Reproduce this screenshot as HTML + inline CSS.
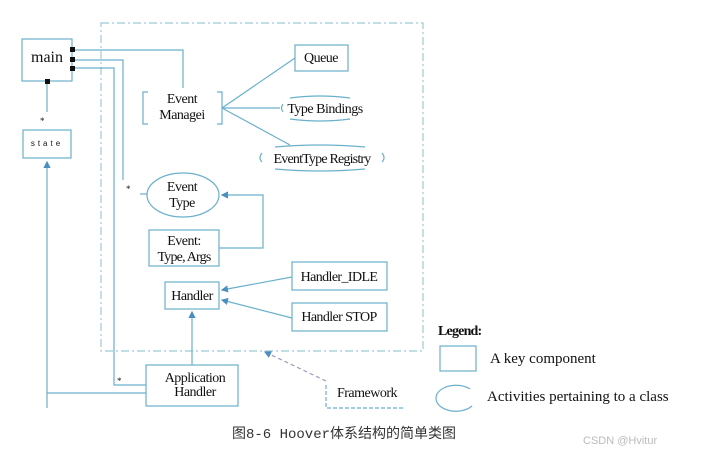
<!DOCTYPE html>
<html><head><meta charset="utf-8"><style>
html,body{margin:0;padding:0;background:#fff;}
svg{display:block;font-family:"Liberation Serif",serif;}
</style></head><body>
<svg width="701" height="451" viewBox="0 0 701 451" xmlns="http://www.w3.org/2000/svg">
<defs>
<marker id="a" markerWidth="6" markerHeight="6" refX="5" refY="3" orient="auto"><path d="M0,0 L6,3 L0,6 z" fill="#4a8fc0"/></marker>
</defs>
<g fill="none" stroke="#8cc4d4" stroke-width="1.2">
<rect x="101" y="23" width="322" height="328" stroke-dasharray="8,3,2,3" stroke="#9ccad6"/>
</g>
<g fill="none" stroke="#6ab0cc" stroke-width="1.2">
<rect x="22" y="39" width="50" height="42"/>
<rect x="23" y="130" width="48" height="28"/>
<rect x="295" y="45" width="53" height="26"/>
<path d="M148,92 H143 V124 H148 M217,92 H222 V124 H217"/>
<ellipse cx="183" cy="195" rx="36" ry="22"/>
<rect x="149" y="230" width="70" height="36"/>
<rect x="165" y="282" width="54" height="27"/>
<rect x="292" y="262" width="95" height="28"/>
<rect x="292" y="303" width="95" height="28"/>
<rect x="146" y="365" width="92" height="41"/>
<path d="M326,385 V408 H404" stroke-dasharray="4,2"/>
<rect x="440" y="346" width="36" height="25"/>
<path d="M470,389 A20,13 0 1,0 472,406"/>
<path d="M283,104 Q280,108 283,112 M290,98 Q320,94 350,98 M290,119 Q320,123 350,119"/>
<path d="M262,153 Q258,158 262,162 M382,153 Q386,158 382,162 M275,147 Q320,143 365,147 M275,169 Q320,173 365,169"/>
<!-- connectors -->
<path d="M74,50 H183 V88"/>
<path d="M74,60 H123 V180"/>
<path d="M74,68 H114 V385 H146"/>
<path d="M47,82 V112"/>
<path d="M47,408 V162" marker-end="url(#a)"/>
<path d="M0,0" />
<path d="M47,393 H146"/>
<path d="M140,194 H147"/>
<path d="M222,108 L295,58 M222,108 H280 M222,108 L290,145"/>
<path d="M219,248 H263 V195 H222" marker-end="url(#a)"/>
<path d="M292,277 L222,290" marker-end="url(#a)"/>
<path d="M292,318 L222,300" marker-end="url(#a)"/>
<path d="M192,365 V312" marker-end="url(#a)"/>
<path d="M326,381 L265,352" stroke-dasharray="4,3" stroke="#99b" marker-end="url(#a)"/>
</g>
<g fill="#111">
<rect x="70" y="47" width="5" height="5"/><rect x="70" y="57" width="5" height="5"/><rect x="70" y="66" width="5" height="5"/><rect x="45" y="79" width="5" height="5"/>
</g>
<g fill="#111" font-size="14">
<text x="47" y="62" text-anchor="middle" font-size="16">main</text>
<text x="47" y="146" text-anchor="middle" font-size="8" letter-spacing="3" font-family="Liberation Sans, sans-serif">state</text>
<text x="40" y="124" font-size="9">*</text>
<text x="126" y="192" font-size="9">*</text>
<text x="117" y="384" font-size="9">*</text>
<text x="321" y="62" text-anchor="middle" letter-spacing="-0.5">Queue</text>
<text x="182" y="103" text-anchor="middle" letter-spacing="-0.5">Event</text>
<text x="182" y="119" text-anchor="middle" letter-spacing="-0.5">Managei</text>
<text x="325" y="113" text-anchor="middle" letter-spacing="-0.5">Type Bindings</text>
<text x="322" y="163" text-anchor="middle" letter-spacing="-0.8">EventType Registry</text>
<text x="182" y="191" text-anchor="middle" letter-spacing="-0.5">Event</text>
<text x="182" y="207" text-anchor="middle" letter-spacing="-0.5">Type</text>
<text x="184" y="245" text-anchor="middle" letter-spacing="-0.5">Event:</text>
<text x="184" y="261" text-anchor="middle" letter-spacing="-0.8">Type, Args</text>
<text x="192" y="300" text-anchor="middle" letter-spacing="-0.5">Handler</text>
<text x="339" y="281" text-anchor="middle" letter-spacing="-0.6">Handler_IDLE</text>
<text x="339" y="321" text-anchor="middle" letter-spacing="-0.6">Handler STOP</text>
<text x="195" y="382" text-anchor="middle" letter-spacing="-0.5">Application</text>
<text x="195" y="396" text-anchor="middle" letter-spacing="-0.5">Handler</text>
<text x="367" y="397" text-anchor="middle" letter-spacing="-0.5">Framework</text>
<text x="438" y="335" font-weight="bold" letter-spacing="-0.8">Legend:</text>
<text x="490" y="363" font-size="15">A key component</text>
<text x="487" y="401" font-size="15">Activities pertaining to a class</text>
<text x="232" y="438" font-size="14" font-family="Liberation Mono, Noto Sans CJK SC, monospace" fill="#333">图8-6 Hoover体系结构的简单类图</text>
<text x="583" y="444" font-size="11" font-family="Liberation Sans, sans-serif" fill="#bbb">CSDN @Hvitur</text>
</g>
</svg>
</body></html>
